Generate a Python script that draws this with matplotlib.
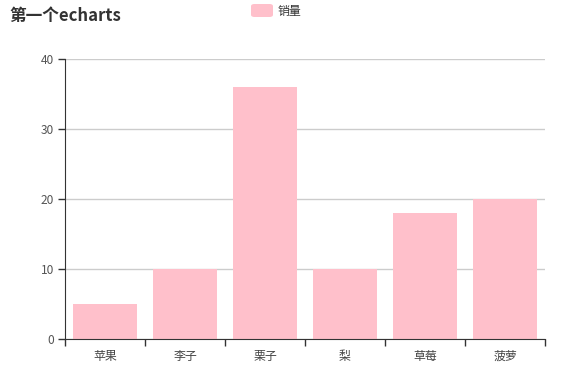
import matplotlib.pyplot as plt
from matplotlib.patches import FancyBboxPatch

plt.rcParams['font.family'] = ['Noto Sans CJK SC', 'DejaVu Sans']

# data
fruits = ['苹果', '李子', '栗子', '梨', '草莓', '菠萝']
sales = [5, 10, 36, 10, 18, 20]
yticks = [0, 10, 20, 30, 40]

W, H = 579, 369
fig = plt.figure(figsize=(W / 100, H / 100), dpi=100)
ax = fig.add_axes([65 / W, (H - 339) / H, 480 / W, 280 / H])

x = range(len(fruits))
ax.bar(x, sales, width=0.8, color='#FFC0CB', zorder=2)

ax.set_xlim(-0.5, len(fruits) - 0.5)
ax.set_ylim(0, 40)
ax.set_yticks(yticks)
ax.yaxis.grid(True, color='#cccccc', linewidth=1)
ax.set_axisbelow(True)

# category ticks sit between bars, labels centred under bars
ax.set_xticks([i - 0.5 for i in range(len(fruits) + 1)])
ax.set_xticklabels([''] * (len(fruits) + 1))
ax.set_xticks(list(x), minor=True)
ax.set_xticklabels(fruits, minor=True)
ax.tick_params(axis='x', which='minor', length=0, pad=8, labelsize=8.6, labelcolor='#444444')
ax.tick_params(axis='x', which='major', length=5, color='#333333', width=1)
ax.tick_params(axis='y', length=5, color='#333333', width=1, labelsize=8.6,
               labelcolor='#555555', pad=3)

for s in ['top', 'right']:
    ax.spines[s].set_visible(False)
ax.spines['left'].set_color('#333333')
ax.spines['bottom'].set_color('#333333')

fig.text(9 / W, 1 - 16 / H, '第一个echarts', fontsize=12, fontweight='bold',
         color='#333333', va='center', ha='left')

# legend
fig.patches.append(FancyBboxPatch((251 / W, 1 - 17 / H), 22 / W, 13 / H,
                                  boxstyle='round,pad=0,rounding_size=0.006',
                                  transform=fig.transFigure, facecolor='#FFC0CB',
                                  edgecolor='none'))
fig.text(278 / W, 1 - 12 / H, '销量', fontsize=8.6, color='#333333', va='center', ha='left')

fig.savefig('out.png', dpi=100)
